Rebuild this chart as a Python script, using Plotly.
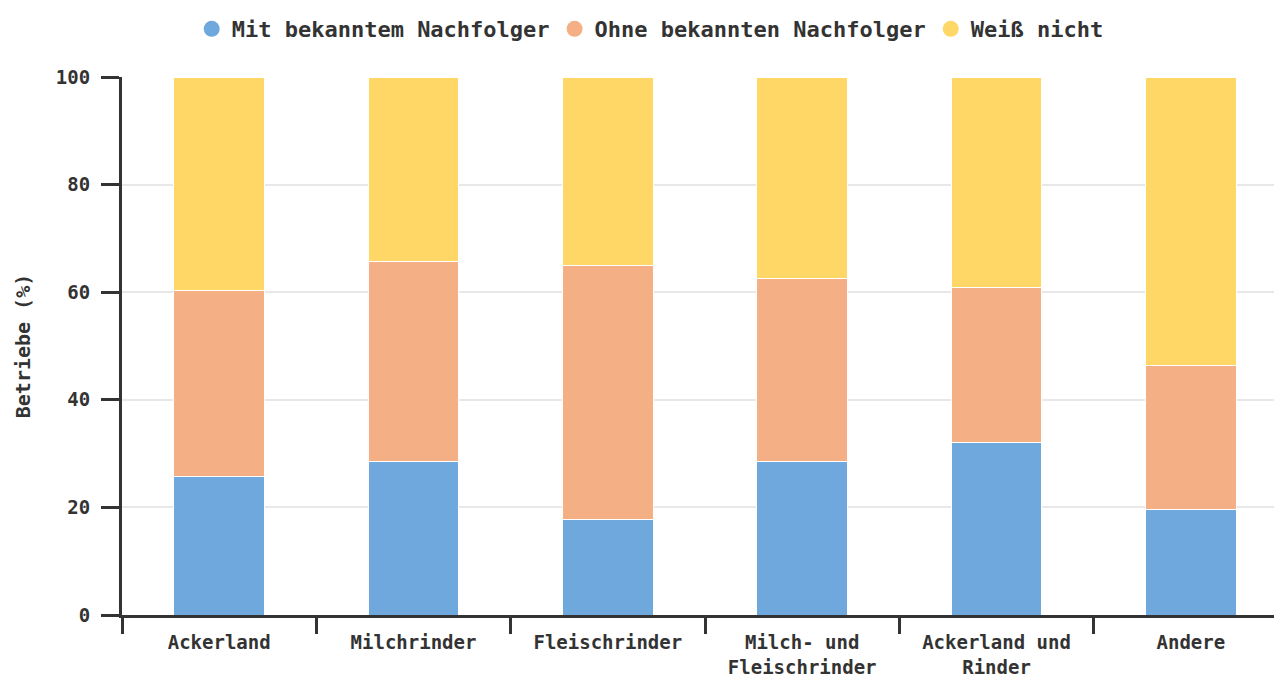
import plotly.graph_objects as go

categories = ["Ackerland", "Milchrinder", "Fleischrinder", "Milch- und<br>Fleischrinder",
              "Ackerland und<br>Rinder", "Andere"]
mit_nachfolger = [25.8, 28.6, 17.7, 28.6, 32.0, 19.7]
ohne_nachfolger = [34.6, 37.2, 47.2, 33.9, 28.8, 26.6]
weiss_nicht = [39.6, 34.2, 35.1, 37.5, 39.2, 53.7]

series = [
    ("Mit bekanntem Nachfolger", mit_nachfolger, "#6fa8dc"),
    ("Ohne bekannten Nachfolger", ohne_nachfolger, "#f4b084"),
    ("Weiß nicht", weiss_nicht, "#fed766"),
]

FONT = "DejaVu Sans Mono"
TXT = "#333333"

fig = go.Figure()
for name, vals, col in series:
    fig.add_trace(go.Bar(x=categories, y=vals, name=name, showlegend=False,
                         marker=dict(color=col, line=dict(color="white", width=1))))
for name, vals, col in series:
    fig.add_trace(go.Scatter(x=[None], y=[None], mode="markers", name=name,
                             marker=dict(symbol="circle", size=20, color=col)))

fig.update_layout(
    width=1280, height=669,
    barmode="stack", bargap=0.535,
    plot_bgcolor="white", paper_bgcolor="white",
    margin=dict(l=114, r=0, t=67, b=62),
    font=dict(family=FONT, color=TXT, size=18, weight="bold"),
    legend=dict(orientation="h", x=0.453, xanchor="center", y=1.09, yanchor="middle",
                font=dict(size=22, family=FONT, color=TXT, weight="bold"),
                traceorder="normal", itemsizing="trace"),
    xaxis=dict(type="category", showline=True, linecolor="#333333", linewidth=3,
               ticks="outside", tickson="boundaries", ticklen=16, tickwidth=3,
               tickcolor="#333333", showgrid=False, ticklabelstandoff=8,
               tickfont=dict(size=19, family=FONT, color=TXT, weight="bold")),
    yaxis=dict(range=[0, 100], tickvals=[0, 20, 40, 60, 80, 100], showline=True,
               linecolor="#333333", linewidth=3, ticks="outside", ticklen=18,
               tickwidth=3, tickcolor="#333333", showgrid=True, gridcolor="#e8e8e8",
               gridwidth=1.5, zeroline=False, ticklabelstandoff=7,
               tickfont=dict(size=19, family=FONT, color=TXT, weight="bold")),
)
fig.update_yaxes(title=dict(text="Betriebe (%)", standoff=20,
                            font=dict(size=20, family=FONT, color=TXT, weight="bold")))

fig.write_html("out.html")
